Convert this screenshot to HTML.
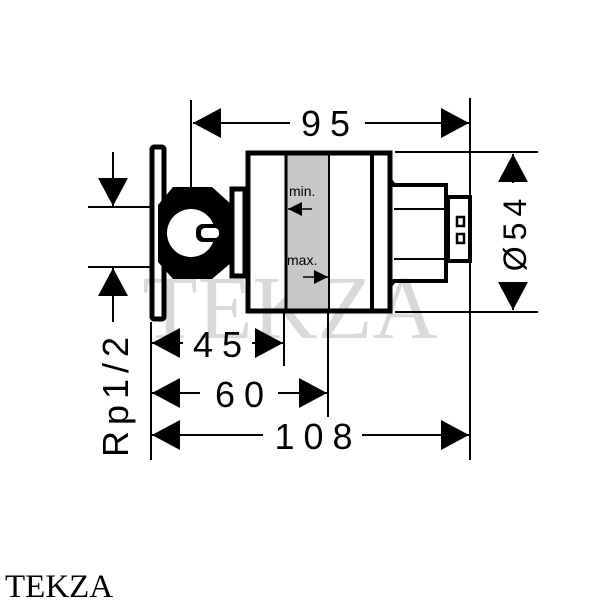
<!DOCTYPE html>
<html><head><style>html,body{margin:0;padding:0;background:#fff;width:600px;height:600px;overflow:hidden}</style></head>
<body>
<svg width="600" height="600" viewBox="0 0 600 600" xmlns="http://www.w3.org/2000/svg" font-family="Liberation Sans, sans-serif">
<defs>
<marker id="a" viewBox="0 0 28 30" refX="28" refY="15" markerWidth="28" markerHeight="30" markerUnits="userSpaceOnUse" orient="auto"><path d="M0,0L28,15L0,30z" fill="#000"/></marker>
</defs>
<text x="290" y="338" font-family="Liberation Serif, serif" font-size="90" fill="#d0d0d0" text-anchor="middle" opacity="0.8">TEKZA</text>
<g stroke="#000" fill="none">
<rect x="287" y="155" width="42" height="155" fill="#c8c8c8" stroke="none"/>
<rect x="248" y="153" width="142" height="158" stroke-width="5"/>
<line x1="286" y1="153" x2="286" y2="311" stroke-width="3"/>
<line x1="329" y1="153" x2="329" y2="311" stroke-width="2"/>
<line x1="372" y1="153" x2="372" y2="311" stroke-width="4"/>
<path d="M390,180 L394,185 L446,185 L446,281 L394,281 L390,286" stroke-width="4"/>
<line x1="394" y1="209" x2="446" y2="209" stroke-width="2"/>
<line x1="394" y1="259" x2="446" y2="259" stroke-width="2"/>
<rect x="448" y="197" width="22" height="64" stroke-width="4"/>
<rect x="457" y="217" width="7" height="9" stroke-width="2.5"/>
<rect x="457" y="234" width="7" height="9" stroke-width="2.5"/>
<rect x="152" y="147" width="12" height="172" rx="2" stroke-width="5"/>
<rect x="232" y="189" width="13" height="87" stroke-width="5"/>
<polygon points="173,187 212,187 232,205 232,262 212,279 173,279 158,262 158,205" fill="#000" stroke="none"/>
<circle cx="191" cy="233" r="24" fill="#fff" stroke="none"/>
<rect x="196" y="224" width="26" height="18" rx="7" fill="#000" stroke="none"/>
<rect x="201" y="228" width="18" height="10" rx="4" fill="#fff" stroke="none"/>
<line x1="312" y1="209" x2="288" y2="209" stroke-width="1.5"/>
<path d="M288,209 L302,202 L302,216z" fill="#000" stroke="none"/>
<line x1="303" y1="277" x2="328" y2="277" stroke-width="1.5"/>
<path d="M328,277 L314,270 L314,284z" fill="#000" stroke="none"/>
<line x1="191" y1="100" x2="191" y2="188" stroke-width="2"/>
<line x1="470" y1="98" x2="470" y2="460" stroke-width="2"/>
<line x1="290" y1="123" x2="193" y2="123" stroke-width="2" marker-end="url(#a)"/>
<line x1="365" y1="123" x2="469" y2="123" stroke-width="2" marker-end="url(#a)"/>
<line x1="395" y1="152" x2="538" y2="152" stroke-width="2"/>
<line x1="395" y1="312" x2="538" y2="312" stroke-width="2"/>
<line x1="513" y1="183" x2="513" y2="154" stroke-width="2" marker-end="url(#a)"/>
<line x1="513" y1="282" x2="513" y2="310" stroke-width="2" marker-end="url(#a)"/>
<line x1="88" y1="207" x2="152" y2="207" stroke-width="2"/>
<line x1="88" y1="267" x2="152" y2="267" stroke-width="2"/>
<line x1="113" y1="152" x2="113" y2="206" stroke-width="2" marker-end="url(#a)"/>
<line x1="113" y1="322" x2="113" y2="268" stroke-width="2" marker-end="url(#a)"/>
<line x1="151" y1="322" x2="151" y2="460" stroke-width="2"/>
<line x1="284" y1="312" x2="284" y2="366" stroke-width="2"/>
<line x1="328" y1="312" x2="328" y2="417" stroke-width="2"/>
<line x1="183" y1="343" x2="152" y2="343" stroke-width="2" marker-end="url(#a)"/>
<line x1="252" y1="343" x2="283" y2="343" stroke-width="2" marker-end="url(#a)"/>
<line x1="200" y1="393" x2="152" y2="393" stroke-width="2" marker-end="url(#a)"/>
<line x1="278" y1="393" x2="327" y2="393" stroke-width="2" marker-end="url(#a)"/>
<line x1="263" y1="435" x2="152" y2="435" stroke-width="2" marker-end="url(#a)"/>
<line x1="362" y1="435" x2="469" y2="435" stroke-width="2" marker-end="url(#a)"/>
</g>
<g fill="#000" font-size="36" text-anchor="middle">
<text x="330" y="136" letter-spacing="9">95</text>
<text x="222" y="357" letter-spacing="9">45</text>
<text x="244" y="407" letter-spacing="9">60</text>
<text x="318" y="449" letter-spacing="9">108</text>
<text transform="translate(526,232) rotate(-90)" font-size="32" letter-spacing="6">Ø54</text>
<text transform="translate(128,394) rotate(-90)" letter-spacing="6">Rp1/2</text>
</g>
<text x="289" y="196" font-size="14">min.</text>
<text x="287" y="265" font-size="14">max.</text>
<text x="5" y="597" font-family="Liberation Serif, serif" font-size="33" fill="#000">TEKZA</text>
</svg>
</body></html>
